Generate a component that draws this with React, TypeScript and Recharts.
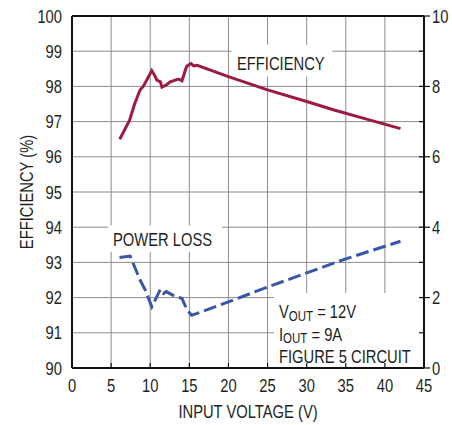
import React from 'react'
import { ComposedChart, Line, XAxis, YAxis, CartesianGrid, ReferenceArea, ReferenceLine } from 'recharts'

// input voltage (V) vs efficiency (%)
const effVin = [6.1, 7.35, 8.0, 8.7, 9.1, 9.65, 10.2, 10.6, 10.85, 11.3, 11.5, 12.05, 12.56, 13.2, 13.6, 14.06, 14.5, 14.7, 15.2, 15.55, 16, 20, 25, 30, 33.5, 38, 42]
const effValues = [96.5, 97.03, 97.5, 97.9, 98.0, 98.22, 98.45, 98.3, 98.18, 98.13, 97.98, 98.04, 98.13, 98.18, 98.21, 98.16, 98.47, 98.58, 98.65, 98.58, 98.6, 98.28, 97.9, 97.57, 97.33, 97.05, 96.8]

// input voltage (V) vs power loss (W)
const lossVin = [6.07, 7.44, 8.7, 9.36, 10.2, 10.85, 11.3, 11.7, 12.05, 13.2, 14.06, 14.7, 15.3, 16, 20, 25, 30, 35, 42]
const lossValues = [3.14, 3.18, 2.5, 2.22, 1.74, 2.03, 2.24, 2.12, 2.17, 2.03, 1.98, 1.65, 1.5, 1.55, 1.88, 2.3, 2.7, 3.1, 3.6]

const xTicks = [0, 5, 10, 15, 20, 25, 30, 35, 40, 45]
const effTicks = [90, 91, 92, 93, 94, 95, 96, 97, 98, 99, 100]
const lossTicks = [0, 1, 2, 3, 4, 5, 6, 7, 8, 9, 10]

const effData = effVin.map((x, i) => ({ x, eff: effValues[i] }))
const lossData = lossVin.map((x, i) => ({ x, loss: lossValues[i] }))

const FONT = "'Liberation Sans', Arial, sans-serif"
const INK = '#231f20'
const SQUEEZE = 0.82 // no condensed face installed, so squash the regular one

// text drawn at (x, y) and squeezed horizontally
const Narrow = ({ x, y, anchor = 'start', rotate = 0, children, size = 18 }: any) => (
  <g transform={`translate(${x} ${y}) rotate(${rotate}) scale(${SQUEEZE} 1)`}>
    <text x={0} y={0} textAnchor={anchor} fontFamily={FONT} fontSize={size} fill={INK}>
      {children}
    </text>
  </g>
)

const LeftTick = ({ x, y, payload }: any) => (
  <Narrow x={x - 10} y={y + 6.5} anchor="end">
    {payload.value}
  </Narrow>
)

const RightTick = ({ x, y, payload }: any) => {
  const major = payload.value % 2 === 0
  return (
    <g>
      <line x1={x - 5} x2={major ? x + 6 : x} y1={y} y2={y} stroke="#111" strokeWidth={1.2} />
      {major && (
        <Narrow x={x + 8} y={y + 6.5}>
          {payload.value}
        </Narrow>
      )}
    </g>
  )
}

const BottomTick = ({ x, y, payload }: any) => (
  <g>
    <line x1={x} x2={x} y1={y - 5} y2={y} stroke="#111" strokeWidth={1.2} />
    <Narrow x={x} y={y + 24} anchor="middle">
      {payload.value}
    </Narrow>
  </g>
)

export default function App() {
  return (
    <div style={{ position: 'absolute', left: 0, top: 0, width: 452, height: 425 }}>
      <ComposedChart width={452} height={425} margin={{ top: 16, right: 0, bottom: 0, left: 0 }}>
        <CartesianGrid yAxisId="eff" stroke="#8c8c8c" strokeWidth={1} />
        <XAxis
          type="number"
          dataKey="x"
          domain={[0, 45]}
          ticks={xTicks}
          height={57}
          tickSize={0}
          tickMargin={0}
          tick={<BottomTick />}
          axisLine={{ stroke: '#111', strokeWidth: 2 }}
          tickLine={false}
          allowDataOverflow
        />
        <YAxis
          yAxisId="eff"
          domain={[90, 100]}
          ticks={effTicks}
          width={72}
          tickSize={0}
          tickMargin={0}
          tick={<LeftTick />}
          axisLine={{ stroke: '#111', strokeWidth: 2 }}
          tickLine={false}
          allowDataOverflow
        />
        <YAxis
          yAxisId="loss"
          orientation="right"
          domain={[0, 10]}
          ticks={lossTicks}
          width={28}
          tickSize={0}
          tickMargin={0}
          tick={<RightTick />}
          axisLine={{ stroke: '#111', strokeWidth: 2 }}
          tickLine={false}
          allowDataOverflow
        />
        <ReferenceLine yAxisId="eff" y={100} stroke="#111" strokeWidth={2} />
        {/* white backing behind the labels */}
        <ReferenceArea yAxisId="eff" x1={20.4} x2={33.3} y1={98.28} y2={99.18} fill="#fff" fillOpacity={1} stroke="none" />
        <ReferenceArea yAxisId="eff" x1={4.6} x2={19.2} y1={93.3} y2={94.05} fill="#fff" fillOpacity={1} stroke="none" />
        <ReferenceArea yAxisId="eff" x1={25.8} x2={44.93} y1={90.03} y2={92.13} fill="#fff" fillOpacity={1} stroke="none" />
        <Line
          yAxisId="eff"
          data={effData}
          dataKey="eff"
          type="linear"
          stroke="#9b1c3f"
          strokeWidth={3}
          dot={false}
          isAnimationActive={false}
        />
        <Line
          yAxisId="loss"
          data={lossData}
          dataKey="loss"
          type="linear"
          stroke="#3a56a8"
          strokeWidth={3}
          strokeDasharray="13 5"
          dot={false}
          isAnimationActive={false}
        />
      </ComposedChart>
      <svg width={452} height={425} style={{ position: 'absolute', left: 0, top: 0, pointerEvents: 'none' }}>
        <Narrow x={33} y={192} anchor="middle" rotate={-90}>EFFICIENCY (%)</Narrow>
        <Narrow x={248} y={418} anchor="middle">INPUT VOLTAGE (V)</Narrow>
        <Narrow x={237} y={70}>EFFICIENCY</Narrow>
        <Narrow x={113} y={246}>POWER LOSS</Narrow>
        <Narrow x={279} y={318}>
          V<tspan fontSize={14} dy={3}>OUT</tspan>
          <tspan dy={-3}> = 12V</tspan>
        </Narrow>
        <Narrow x={279} y={341}>
          I<tspan fontSize={14} dy={2}>OUT</tspan>
          <tspan dy={-2}> = 9A</tspan>
        </Narrow>
        <Narrow x={279} y={363}>FIGURE 5 CIRCUIT</Narrow>
      </svg>
    </div>
  )
}
